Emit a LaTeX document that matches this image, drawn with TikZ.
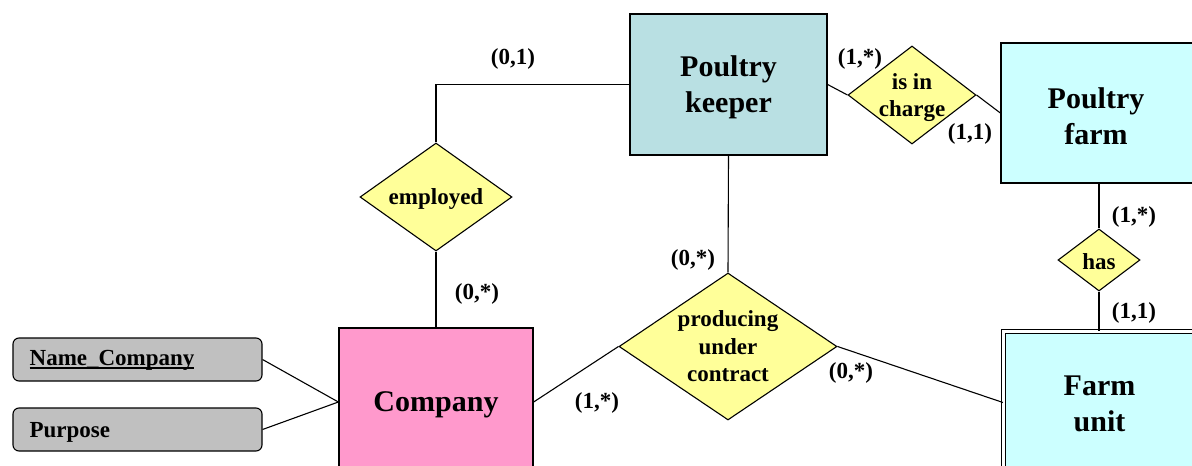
\documentclass[tikz,border=0pt]{standalone}
\usepackage{fontspec}
\setmainfont{Liberation Serif}
\usetikzlibrary{shapes.geometric}

\definecolor{keeperfill}{HTML}{B9E0E3}
\definecolor{farmfill}{HTML}{CCFFFF}
\definecolor{companyfill}{HTML}{FF99CC}
\definecolor{relfill}{HTML}{FFFF99}
\definecolor{attrfill}{HTML}{C0C0C0}

% key attribute: heavy underline
\newsavebox\keybox
\newcommand\keyattr[1]{\sbox\keybox{#1}\rlap{\rule[-3.6pt]{\wd\keybox}{1.8pt}}\usebox\keybox}

\tikzset{
  entity/.style={draw=black, line width=1.3pt, inner sep=0pt},
  enttext/.style={font=\fontsize{30}{36}\selectfont\bfseries, align=center,
    inner sep=0pt, yshift=-3pt},
  rel/.style={draw=black, line width=1.1pt, shape=diamond, fill=relfill,
    inner sep=0pt, aspect=1},
  reltext/.style={font=\fontsize{23}{27.5}\selectfont\bfseries, align=center,
    inner sep=0pt, yshift=-1.5pt},
  attr/.style={draw=black, line width=1.1pt, rounded corners=6pt, fill=attrfill,
    minimum width=249pt, minimum height=43pt, inner sep=0pt},
  attrtext/.style={font=\fontsize{23}{27}\selectfont\bfseries, inner sep=0pt,
    anchor=west, xshift=17pt},
  card/.style={font=\fontsize{23}{27}\selectfont\bfseries, inner sep=0pt,
    yshift=-1pt},
  conn/.style={draw=black, line width=1.1pt},
}

\begin{document}
\begin{tikzpicture}[x=1pt, y=-1pt]
  \clip (0,0) rectangle (1192,466);
  \fill[white] (0,0) rectangle (1192,466);

  % entities
  \node[entity, fill=keeperfill, minimum width=197pt, minimum height=141pt,
    label={[enttext]center:{Poultry\\keeper}}] (pk) at (728.5,84.5) {};
  \node[entity, fill=farmfill, minimum width=196pt, minimum height=140pt,
    label={[enttext, xshift=-3pt]center:{Poultry\\farm}}] (pf) at (1099,113) {};
  \node[entity, fill=companyfill, minimum width=194pt, minimum height=148pt,
    label={[enttext]center:Company}] (co) at (436,402) {};
  \node[entity, fill=farmfill, double=white, double distance=3pt,
    line width=1.1pt, minimum width=198pt, minimum height=142pt,
    label={[enttext, yshift=1.5pt, xshift=-3pt]center:{Farm\\unit}}]
    (fu) at (1102.5,402.5) {};

  % relationships
  \node[rel, minimum width=152pt, minimum height=108pt,
    label={[reltext]center:employed}] (emp) at (436,197) {};
  \node[rel, minimum width=218pt, minimum height=147pt,
    label={[reltext, yshift=1.5pt]center:{producing\\under\\contract}}] (puc) at (728,346.5) {};
  \node[rel, minimum width=128pt, minimum height=98pt,
    label={[reltext, yshift=-1pt]center:{is in\\charge}}] (inc) at (912,95) {};
  \node[rel, minimum width=82pt, minimum height=62pt,
    label={[reltext]center:has}] (has) at (1099,260) {};

  % attributes of Company
  \node[attr, label={[attrtext, yshift=-1pt]west:\keyattr{Name\_Company}}]
    (acn) at (137.5,359.5) {};
  \node[attr, label={[attrtext, yshift=-3pt]west:Purpose}]
    (apu) at (137.5,429.5) {};

  % connectors
  \draw[conn] (emp.north) |- (pk.west);
  \draw[conn] (emp.south) -- (co.north);
  \draw[conn] (pk.south) -- (puc.north);
  \draw[conn] (co.east) -- (puc.west);
  \draw[conn] (puc.east) -- (fu.west);
  \draw[conn] (pk.east) -- (inc.west);
  \draw[conn] (inc.east) -- (pf.west);
  \draw[conn] (pf.south) -- (has.north);
  \draw[conn] (has.south) -- (has.south |- fu.north);
  \draw[conn] (acn.east) -- (co.west);
  \draw[conn] (apu.east) -- (co.west);

  % cardinalities
  \node[card] (c1) at (513,58) {(0,1)};
  \node[card] (c2) at (477,293) {(0,*)};
  \node[card] (c3) at (693,259) {(0,*)};
  \node[card] (c4) at (597,402) {(1,*)};
  \node[card] (c5) at (851,372) {(0,*)};
  \node[card] (c6) at (860,58) {(1,*)};
  \node[card] (c7) at (970,133) {(1,1)};
  \node[card] (c8) at (1134,216) {(1,*)};
  \node[card] (c9) at (1134,312) {(1,1)};
\end{tikzpicture}
\end{document}
